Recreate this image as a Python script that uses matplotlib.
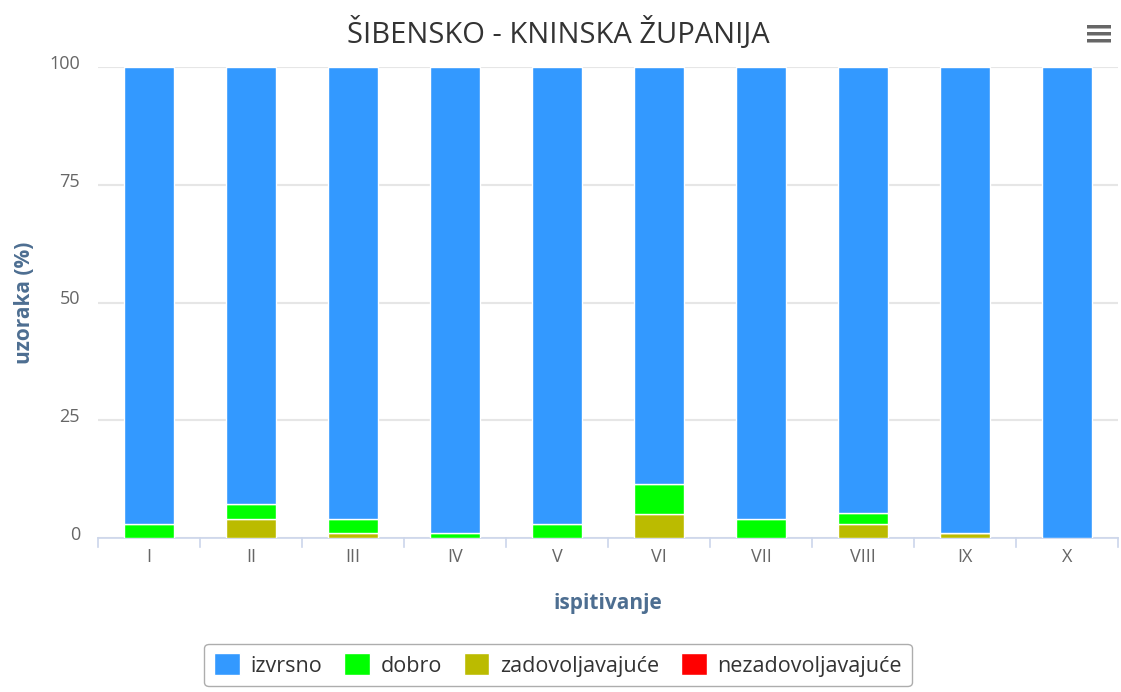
import matplotlib.pyplot as plt
import matplotlib.patches as patches
import matplotlib.transforms as mtransforms
import numpy as np

plt.rcParams['font.family'] = ['Open Sans', 'DejaVu Sans']

# --- podaci ---
categories = ['I', 'II', 'III', 'IV', 'V', 'VI', 'VII', 'VIII', 'IX', 'X']
nezadovoljavajuce = [0, 0, 0, 0, 0, 0, 0, 0, 0, 0]
zadovoljavajuce = [0, 4, 1, 0, 0, 5.2, 0, 3, 1, 0]
dobro = [3, 3.2, 3, 1, 3, 6.3, 4, 2.4, 0, 0]
izvrsno = [97, 92.8, 96, 99, 97, 88.5, 96, 94.6, 99, 100]

series = [
    ('nezadovoljavajuće', nezadovoljavajuce, '#FF0000'),
    ('zadovoljavajuće', zadovoljavajuce, '#BBBB00'),
    ('dobro', dobro, '#00FF00'),
    ('izvrsno', izvrsno, '#3399FF'),
]

fig = plt.figure(figsize=(11.21, 6.92), dpi=100)
ax = fig.add_axes([98 / 1121, 1 - 538 / 692, 1020 / 1121, 471 / 692])

x = np.arange(len(categories))
bottom = np.zeros(len(categories))
handles = {}
for name, vals, col in series:
    vals = np.array(vals, dtype=float)
    b = ax.bar(x, vals, width=0.49, bottom=bottom, color=col, edgecolor='white',
               linewidth=1, zorder=3, label=name)
    handles[name] = b
    bottom += vals

ax.set_xlim(-0.5, len(categories) - 0.5)
ax.set_ylim(0, 100)
ax.set_yticks([0, 25, 50, 75, 100])
ax.set_xticks(x)
ax.set_xticklabels(categories)
ax.grid(axis='y', color='#e6e6e6', lw=1.5, zorder=0)
ax.set_axisbelow(True)

for s in ['top', 'right', 'left']:
    ax.spines[s].set_visible(False)
ax.spines['bottom'].set_color('#ccd6eb')
ax.spines['bottom'].set_linewidth(1.2)

ax.tick_params(axis='y', length=0, pad=13, labelsize=13, labelcolor='#666666')
ax.tick_params(axis='x', length=0, pad=7, labelsize=13, labelcolor='#666666')
shift = mtransforms.ScaledTranslation(0, 5 / 100, fig.dpi_scale_trans)
for yt in ax.get_yticklabels():
    yt.set_transform(yt.get_transform() + shift)

# tickovi na granicama kategorija
for b in np.arange(-0.5, len(categories), 1.0):
    ax.plot([b, b], [0, -2], color='#ccd6eb', lw=1.2, clip_on=False, zorder=4)

ax.set_ylabel('uzoraka (%)', fontsize=15, fontweight='bold', color='#4d6e91', labelpad=10)
ax.set_xlabel('ispitivanje', fontsize=15, fontweight='bold', color='#4d6e91', labelpad=20)

fig.text(558 / 1121, 1 - 33 / 692, 'ŠIBENSKO - KNINSKA ŽUPANIJA', ha='center', va='center',
         fontsize=21, color='#333333')

# ikona izbornika
for dy in (-7, 0, 7):
    fig.patches.append(patches.FancyBboxPatch(
        ((1087) / 1121, (1 - (34 + dy) / 692) - 1.5 / 692), 24 / 1121, 3.5 / 692,
        boxstyle='round,pad=0', transform=fig.transFigure, fc='#666666', ec='none'))

order = ['izvrsno', 'dobro', 'zadovoljavajuće', 'nezadovoljavajuće']
leg = fig.legend([handles[n] for n in order], order, loc='center',
                 bbox_to_anchor=(558 / 1121, 1 - 665 / 692), ncol=4, fontsize=15.5,
                 frameon=True, fancybox=True, edgecolor='#999999', handlelength=1.2,
                 handleheight=1.2, handletextpad=0.5, columnspacing=1.0, borderpad=0.45)
for t in leg.get_texts():
    t.set_color('#333333')

fig.savefig('out.png', dpi=100)
